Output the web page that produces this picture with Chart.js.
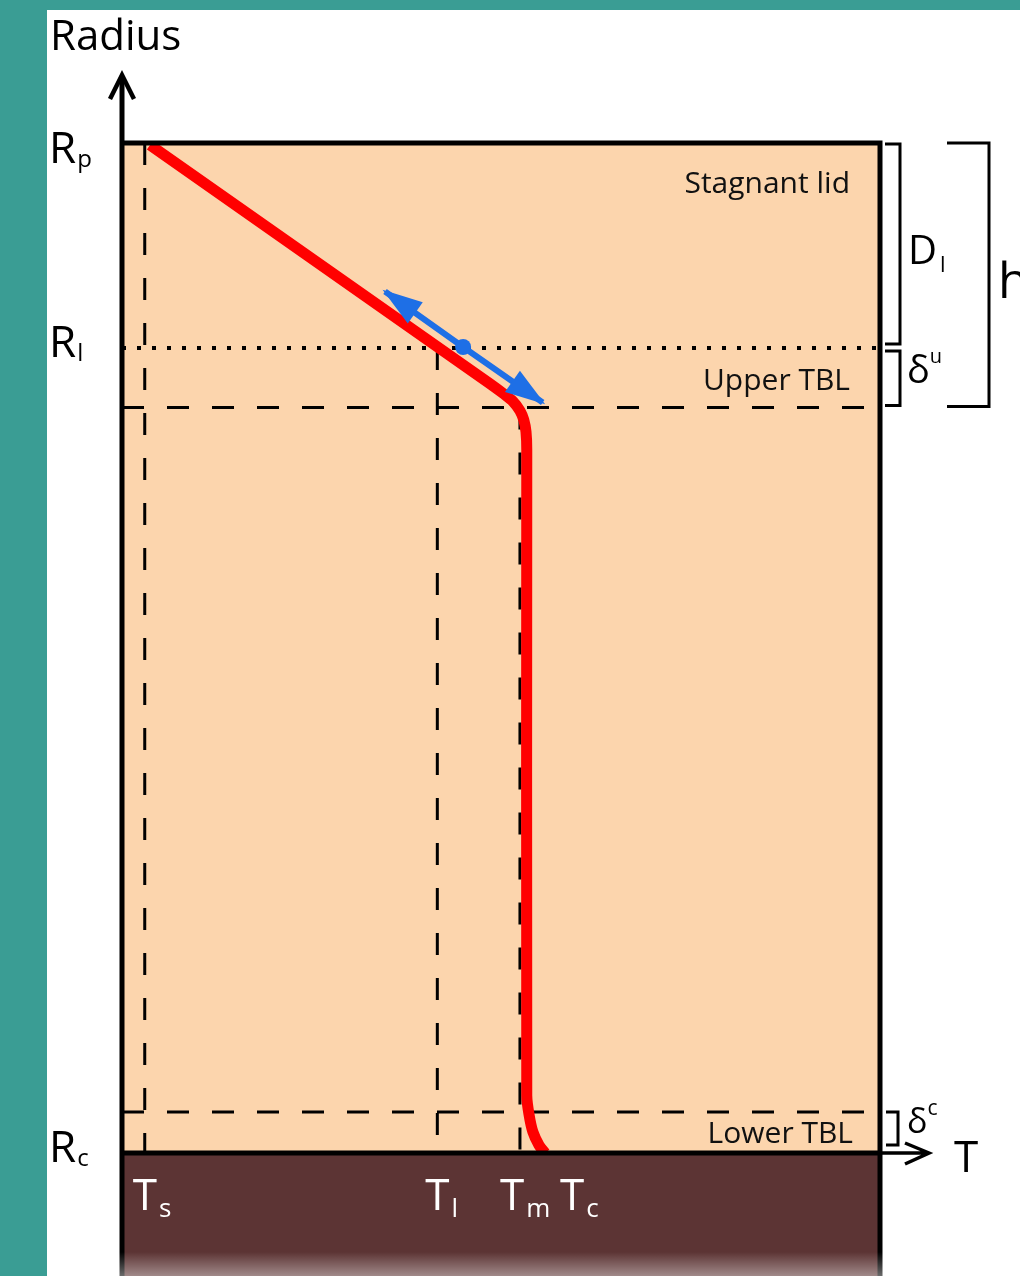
<!DOCTYPE html>
<html>
<head>
<meta charset="utf-8">
<title>Stagnant lid temperature profile</title>
<script src="https://cdn.jsdelivr.net/npm/chart.js@4.4.1/dist/chart.umd.min.js"></script>
<style>
  html, body { margin: 0; padding: 0; background: #3a9d94; }
  canvas { display: block; }
</style>
</head>
<body>
<canvas id="perfil" width="1020" height="1276"></canvas>
<script>
// ---- data (arbitrary units: T 0..100 across the mantle, R 0 at Rc, 100 at Rp) ----
const tempTicks = [3.0, 41.6, 52.5, 55.8];
const tempLabels = [['T', 's'], ['T', 'l'], ['T', 'm'], ['T', 'c']];
const radiusTicks = [100, 79.7, 0];
const radiusLabels = [['R', 'p'], ['R', 'l'], ['R', 'c']];
const upperTBL = 73.8;
const lowerTBL = 4.06;

// temperature profile through lid, upper TBL, convecting mantle, lower TBL
const profileT = [3.7, 48.5, 50.3, 51.6, 52.5, 53.0, 53.3, 53.4, 53.4, 53.7, 54.2, 55.0, 55.8];
const profileR = [99.8, 76.2, 75.2, 74.4, 73.5, 72.6, 71.4, 69.6, 5.7, 3.8, 2.1, 0.8, 0];

// moving base of the lid (double arrow with centre dot)
const arrowT = [34.7, 45.0, 55.5];
const arrowR = [85.3, 79.8, 74.3];

const FONT = '"Open Sans", "DejaVu Sans", sans-serif';
const pts = (xs, ys) => xs.map((x, i) => ({ x: x, y: ys[i] }));
const dash = [22, 23];

function guia(data, extra) {
    return Object.assign({
        data: data, showLine: true, borderColor: '#000', borderWidth: 3,
        borderDash: dash, pointRadius: 0, tension: 0, order: 5
    }, extra || {});
}

// background: teal page, white sheet, peach mantle, brown core
const fundo = {
    id: 'fundo',
    beforeDraw(chart) {
        const c = chart.ctx, a = chart.chartArea;
        c.save();
        c.fillStyle = '#3a9d94';
        c.fillRect(0, 0, chart.width, chart.height);
        c.fillStyle = '#ffffff';
        c.fillRect(47, 10, chart.width - 47, chart.height - 10);
        c.fillStyle = '#fcd5ad';
        c.fillRect(a.left, a.top, a.right - a.left, a.bottom - a.top);
        c.fillStyle = '#5c3434';
        c.fillRect(a.left, a.bottom, a.right - a.left, chart.height - a.bottom);
        c.restore();
    }
};

function rotulo(c, main, sub, x, y, size, subSize, subDy, color, gap) {
    c.fillStyle = color;
    c.textAlign = 'left';
    c.textBaseline = 'alphabetic';
    c.font = '500 ' + size + 'px ' + FONT;
    c.fillText(main, x, y);
    const w = c.measureText(main).width;
    c.font = '500 ' + subSize + 'px ' + FONT;
    c.fillText(sub, x + w + (gap === undefined ? 1 : gap), y + subDy);
}

function seta(c, x0, y0, x1, y1, len, half) {
    // filled arrowhead with its tip at (x1, y1)
    const ang = Math.atan2(y1 - y0, x1 - x0);
    const tx = x1 + Math.cos(ang) * 3, ty = y1 + Math.sin(ang) * 3;
    const bx = tx - Math.cos(ang) * len, by = ty - Math.sin(ang) * len;
    c.beginPath();
    c.moveTo(tx, ty);
    c.lineTo(bx + Math.sin(ang) * half, by - Math.cos(ang) * half);
    c.lineTo(bx - Math.sin(ang) * half, by + Math.cos(ang) * half);
    c.closePath();
    c.fill();
}

// frame, axes, brackets and labels
const moldura = {
    id: 'moldura',
    afterDatasetsDraw(chart) {
        const c = chart.ctx, a = chart.chartArea;
        const sx = chart.scales.x, sy = chart.scales.y;
        const H = chart.height;
        c.save();

        // blue arrowheads
        const p0 = { x: sx.getPixelForValue(arrowT[0]), y: sy.getPixelForValue(arrowR[0]) };
        const p2 = { x: sx.getPixelForValue(arrowT[2]), y: sy.getPixelForValue(arrowR[2]) };
        c.fillStyle = '#1e6fe6';
        seta(c, p2.x, p2.y, p0.x, p0.y, 40, 13);
        seta(c, p0.x, p0.y, p2.x, p2.y, 40, 13);

        // box
        c.strokeStyle = '#000';
        c.lineCap = 'butt';
        c.lineWidth = 5;
        c.beginPath();
        c.moveTo(a.left, 76); c.lineTo(a.left, H);
        c.moveTo(a.right, a.top - 2.5); c.lineTo(a.right, H);
        c.moveTo(a.left, a.top); c.lineTo(a.right + 2.5, a.top);
        c.moveTo(a.left, a.bottom); c.lineTo(a.right, a.bottom);
        c.stroke();

        // radius axis arrow
        c.lineWidth = 4.5;
        c.lineJoin = 'miter';
        c.beginPath();
        c.moveTo(a.left - 12, 99); c.lineTo(a.left, 75); c.lineTo(a.left + 12, 99);
        c.stroke();

        // temperature axis arrow
        c.lineWidth = 3.5;
        c.beginPath();
        c.moveTo(a.right, a.bottom); c.lineTo(a.right + 48, a.bottom);
        c.moveTo(a.right + 25, a.bottom - 10); c.lineTo(a.right + 49, a.bottom); c.lineTo(a.right + 25, a.bottom + 11);
        c.stroke();

        // brackets on the right
        const yTop = sy.getPixelForValue(radiusTicks[0]);
        const yL = sy.getPixelForValue(radiusTicks[1]);
        const yU = sy.getPixelForValue(upperTBL);
        const yLo = sy.getPixelForValue(lowerTBL);
        const yC = sy.getPixelForValue(radiusTicks[2]);
        c.lineWidth = 3;
        c.lineJoin = 'miter';
        const colchete = (x0, x1, t, b) => {
            c.beginPath();
            c.moveTo(x0, t); c.lineTo(x1, t); c.lineTo(x1, b); c.lineTo(x0, b);
            c.stroke();
        };
        colchete(a.right + 5, a.right + 20, yTop + 1, yL - 4);
        colchete(a.right + 5, a.right + 20, yL + 3, yU - 2);
        colchete(a.right + 67, a.right + 109, yTop, yU - 1);
        colchete(a.right + 6, a.right + 18, yLo, yC - 8);

        // region names
        c.fillStyle = '#111';
        c.font = '500 30px ' + FONT;
        c.textAlign = 'right';
        c.textBaseline = 'alphabetic';
        c.fillText('Stagnant lid', 850, yTop + 50);
        c.fillText('Upper TBL', 850, yU - 18);
        c.fillText('Lower TBL', 853, yC - 10);

        // radius labels
        c.textAlign = 'left';
        c.fillStyle = '#000';
        c.font = '500 42px ' + FONT;
        c.fillText('Radius', 50, 50);
        radiusLabels.forEach((lab, i) => {
            const py = sy.getPixelForValue(radiusTicks[i]);
            rotulo(c, lab[0], lab[1], 49, py + (i === 0 ? 20 : 9), 44, 24, 4, '#000', 1);
        });

        // temperature labels on the core
        const desloc = [-12, -12, -20, 15];
        tempLabels.forEach((lab, i) => {
            const px = sx.getPixelForValue(tempTicks[i]);
            rotulo(c, lab[0], lab[1], px + desloc[i], a.bottom + 57, 44, 26, 7, '#ffffff', 2);
        });

        // bracket labels
        rotulo(c, 'D', 'l', a.right + 28, yTop + 121, 40, 22, 8, '#000', 3);
        rotulo(c, '\u03b4', 'u', a.right + 27, yU - 25, 38, 20, -20, '#000', 0);
        rotulo(c, '\u03b4', 'c', a.right + 27, yC - 20, 34, 21, -18, '#000', 0);
        c.font = '500 50px ' + FONT;
        c.fillText('h', a.right + 118, yTop + 155);
        c.font = '500 44px ' + FONT;
        c.fillText('T', a.right + 74, yC + 19);

        // faded lower edge of the sheet
        const g = c.createLinearGradient(0, H - 24, 0, H);
        g.addColorStop(0, 'rgba(255,255,255,0)');
        g.addColorStop(1, 'rgba(255,255,255,0.42)');
        c.fillStyle = g;
        c.fillRect(a.left - 4, H - 24, a.right - a.left + 8, 24);
        c.restore();
    }
};

const ctx = document.getElementById('perfil').getContext('2d');
new Chart(ctx, {
    type: 'scatter',
    data: {
        datasets: [
            { label: 'lid', data: pts(arrowT, arrowR), showLine: true, borderColor: '#1e6fe6', borderWidth: 6,
              pointRadius: [0, 8, 0], pointBackgroundColor: '#1e6fe6', pointBorderWidth: 0, tension: 0, order: 0 },
            { label: 'perfil', data: pts(profileT, profileR), showLine: true, borderColor: '#ff0000', borderWidth: 11,
              pointRadius: 0, tension: 0.3, borderJoinStyle: 'round', order: 1 },
            guia(pts([tempTicks[0], tempTicks[0]], [radiusTicks[0], radiusTicks[2]])),
            guia(pts([tempTicks[1], tempTicks[1]], [radiusTicks[1], radiusTicks[2]])),
            guia(pts([tempTicks[2], tempTicks[2]], [upperTBL, radiusTicks[2]])),
            guia(pts([0, 100], [upperTBL, upperTBL])),
            guia(pts([0, 100], [lowerTBL, lowerTBL])),
            guia(pts([0, 100], [radiusTicks[1], radiusTicks[1]]), { borderDash: [4, 11], borderWidth: 4 })
        ]
    },
    options: {
        responsive: false,
        animation: false,
        devicePixelRatio: 1,
        layout: { padding: { left: 122, right: 140, top: 143, bottom: 123 } },
        scales: {
            x: { type: 'linear', min: 0, max: 100, display: false },
            y: { type: 'linear', min: 0, max: 100, display: false }
        },
        plugins: { legend: { display: false }, tooltip: { enabled: false } }
    },
    plugins: [fundo, moldura]
});
</script>
</body>
</html>
